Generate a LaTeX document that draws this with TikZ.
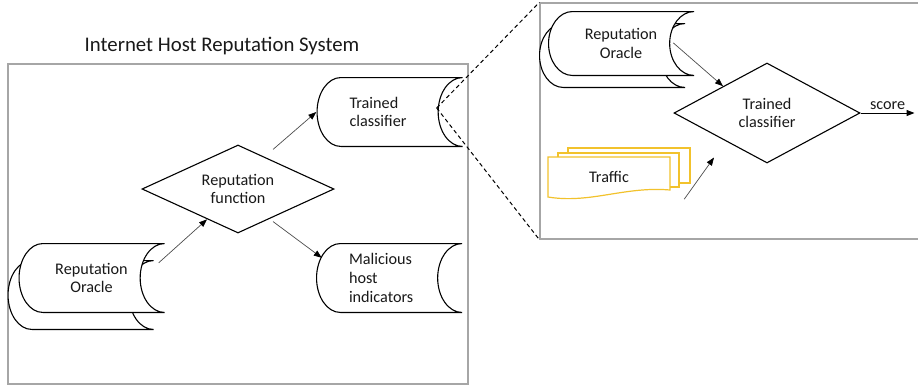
\documentclass[tikz,border=0pt]{standalone}
\usepackage{fontspec}
\setmainfont{Carlito}
\usetikzlibrary{shapes.geometric,arrows.meta,calc}

\definecolor{framegray}{RGB}{166,166,166}
\definecolor{trafficyellow}{RGB}{242,194,44}
\newcommand\bodyfont{\fontsize{16.2}{18.8}\selectfont}
\newcommand\titlefont{\fontsize{20.8}{25}\selectfont}

\begin{document}
\begin{tikzpicture}[x=1pt,y=1pt]
    % Define Styles
        \tikzstyle{store} = [
            rectangle,
            inner xsep = 33pt,
            inner ysep = 2pt,
            text width = 80pt,
            minimum height = 70pt,
            text = black!90,
            font = \bodyfont,
            path picture = {
                \path [draw, fill=white, line width=1.1pt]
                    let \p1 = (path picture bounding box.south west),
                        \p2 = (path picture bounding box.north east),
                        \n1 = {(\x2-\x1)/6},
                        \n2 = {(\y2-\y1)/2-0.55pt}
                    in (\x2,\y2-0.55pt) -- (\x1+\n1,\y2-0.55pt)
                    arc [start angle=90, end angle=270,
                         x radius={\n1*1pt-0.55pt}, y radius={\n2*1pt}]
                    -- (\x2,\y1+0.55pt)
                    arc [start angle=270, end angle=90,
                         x radius={\n1*1pt}, y radius={\n2*1pt}]
                    -- cycle;
            }
        ]
        \tikzstyle{decision} = [
            diamond,
            draw,
            fill = white,
            aspect = 2.2,
            inner sep = 0pt,
            line width = 1.1pt,
            align = center,
            text = black!90,
            font = \bodyfont
        ]
        \tikzstyle{sysframe} = [
            rectangle,
            draw = framegray,
            line width = 1.3pt,
            inner sep = 0pt
        ]
        \tikzstyle{page} = [
            draw = trafficyellow,
            fill = white,
            line width = 1.2pt
        ]
        \tikzstyle{line} = [
            draw,
            black!70,
            line width = 0.7pt,
            -{Triangle[length=8pt, width=6pt, color=black]}
        ]
        \tikzstyle{zoomline} = [
            draw,
            line width = 1pt,
            dash pattern = on 4pt off 3pt
        ]
    \useasboundingbox (0,0) rectangle (918,-386);
    % Frames and title
        \node [sysframe, minimum width=460pt, minimum height=320pt] (system) at (238,-224) {};
        \node [sysframe, minimum width=385pt, minimum height=236pt] (detail) at (732.5,-121) {};
        \node [anchor=base, font=\titlefont, text=black!90] (title) at (222,-51) {Internet Host Reputation System};
    % Place nodes
        \node [store] (oracleback) at (80.5,-295) {};
        \node [store, align=center] (oracle) at (91.5,-278) {%
            Reputation \\
            Oracle
        };
        \node [decision, minimum width=192pt, minimum height=88pt] (repfn) at (238,-189) {%
            Reputation \\
            function
        };
        \node [store, align=left] (trained) at (389.5,-112) {%
            Trained \\
            classifier
        };
        \node [store, align=left] (malicious) at (389,-278) {%
            Malicious \\
            host \\
            indicators
        };
        \node [store, minimum height=65pt] (oracle2back) at (612,-55.5) {};
        \node [store, minimum height=65pt, align=center] (oracle2) at (621,-43.5) {%
            Reputation \\
            Oracle
        };
        \node [decision, minimum width=186pt, minimum height=100pt] (classifier) at (767,-113) {%
            Trained \\
            classifier
        };
        % stacked traffic pages
        \draw [page] (568,-148) rectangle (690,-183);
        \draw [page] (558,-153) rectangle (679,-187);
        \draw [page] (548,-157) -- (670,-157) -- (670,-190)
            .. controls (625,-186) and (590,-204) .. (548,-197) -- cycle;
        \node [minimum width=122pt, minimum height=40pt, font=\bodyfont, text=black!90] (traffic) at (609,-177) {Traffic};
    % Draw edges
        \path [line] ([shift={(-6,-20)}]oracle.north east) -- ($(repfn.west)!0.68!(repfn.south)$);
        \path [line] ([shift={(35,-5)}]repfn.north) -- (trained.west);
        \path [line] ([shift={(35,12)}]repfn.south) -- ([shift={(6,-15)}]malicious.north west);
        \path [line] ([shift={(-21,-32)}]oracle2.north east) -- ($(classifier.west)!0.53!(classifier.north)$);
        \path [line] ([shift={(14,-2)}]traffic.south east) -- ([shift={(-53,6)}]classifier.south);
        \path [line, black, line width=1pt] (classifier.east) -- ([xshift=54pt]classifier.east)
            node [midway, above, inner sep=2.5pt, font=\bodyfont, text=black!90] {score};
        \path [zoomline] ([shift={(-26,4)}]trained.east) -- (detail.north west);
        \path [zoomline] ([shift={(-26,4)}]trained.east) -- (detail.south west);
\end{tikzpicture}
\end{document}
